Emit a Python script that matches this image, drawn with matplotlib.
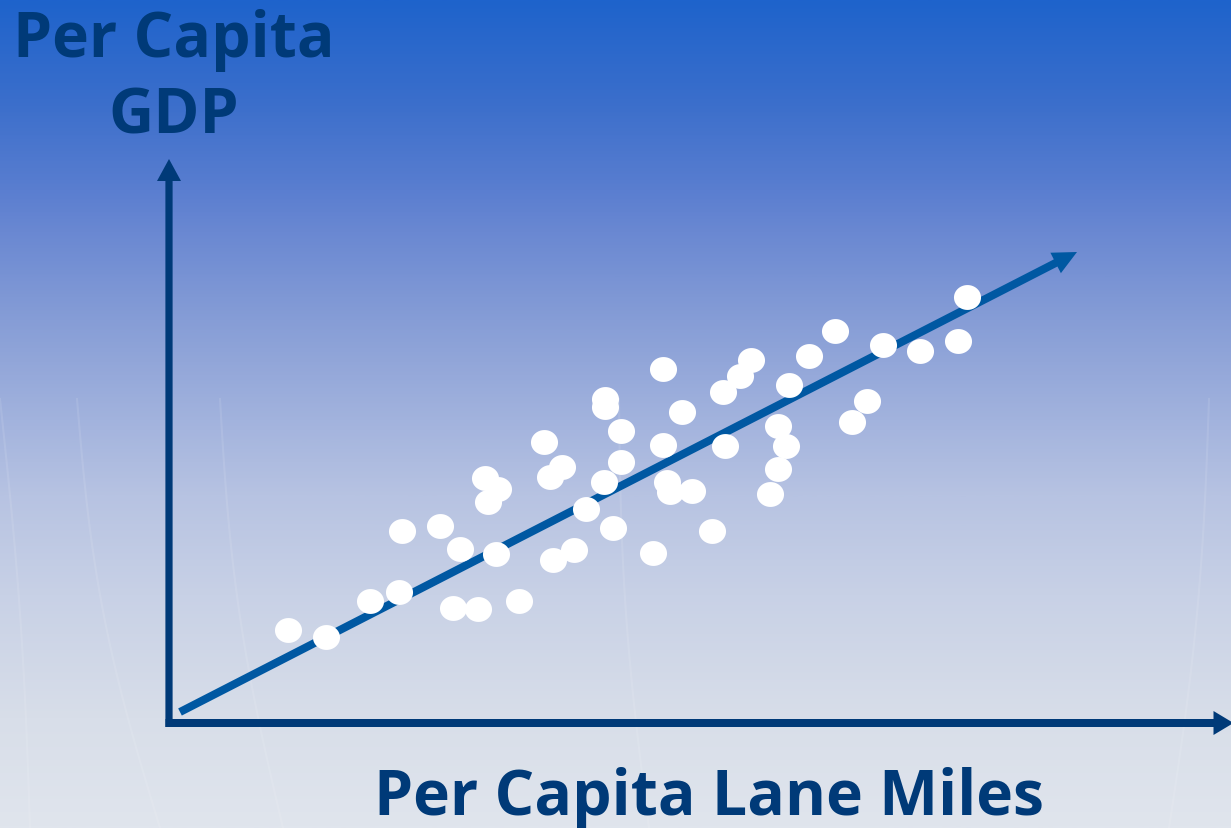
import numpy as np
import matplotlib
matplotlib.use("Agg")
import matplotlib.pyplot as plt
from matplotlib.colors import LinearSegmentedColormap
from matplotlib.patches import FancyArrow

# Per capita lane miles (x) vs per capita GDP (y), arbitrary units
lane_miles = [11.9, 15.7, 20.1, 23.0, 23.3, 27.1, 29.1, 28.4, 30.9, 32.7,
              31.6, 32.9, 31.9, 35.0, 37.5, 38.1, 39.3, 38.4, 40.5, 41.7,
              43.6, 43.6, 45.2, 45.2, 43.5, 44.4, 49.4, 51.3, 49.4, 49.8,
              50.1, 52.3, 48.4, 54.3, 55.4, 57.1, 58.2, 55.6, 62.0, 64.0,
              66.6, 60.9, 61.7, 60.9, 60.1, 71.4, 75.1, 78.9, 79.8, 69.8,
              68.3]
gdp = [9.3, 8.6, 12.2, 13.1, 19.2, 19.7, 17.4, 11.5, 11.4, 16.9,
       24.5, 23.4, 22.1, 12.2, 28.1, 24.6, 25.6, 16.3, 17.3, 21.4,
       32.4, 31.6, 29.2, 26.1, 24.1, 19.5, 35.4, 31.1, 27.8, 24.1,
       23.1, 23.2, 17.0, 19.2, 33.1, 34.7, 36.3, 27.7, 33.8, 36.7,
       39.2, 29.7, 27.7, 25.4, 22.9, 37.8, 37.2, 38.2, 42.6, 32.2,
       30.1]

# trend line start and end
trend_x = [1.1, 90.8]
trend_y = [1.1, 47.1]

x_label = "Per Capita Lane Miles"
y_label = ["Per Capita", "GDP"]

NAVY = "#003a78"
TREND = "#0058a2"

fig = plt.figure(figsize=(12.31, 8.29), dpi=100)
ax = fig.add_axes([0, 0, 1, 1])
ax.set_xlim(-16.9, 106.2)
ax.set_ylim(-10.5, 72.4)
ax.axis("off")

# vertical background gradient
stops = [(0.0, "#1e63cc"), (0.12, "#3a6ecb"), (0.23, "#5a7ed0"),
         (0.28, "#6a88d2"), (0.36, "#7f98d5"), (0.42, "#8ea3d8"),
         (0.52, "#a5b5de"), (0.60, "#b7c3e2"), (0.72, "#c8d1e6"),
         (0.87, "#d8dee9"), (1.0, "#e0e5ed")]
cmap = LinearSegmentedColormap.from_list("bg", stops)
grad = np.linspace(0, 1, 512).reshape(-1, 1)
ax.imshow(grad, cmap=cmap, aspect="auto", extent=(-16.9, 106.2, -10.5, 72.4),
          origin="upper", zorder=0)

# faint decorative arcs
t = np.linspace(0, 1, 100)
for x0, x1, bend in [(-9.2, -0.9, -1.5), (5.1, 11.4, -1.2), (-16.9, -13.9, 0.5),
                     (45.0, 48.0, -0.8), (104.0, 100.0, 0.8)]:
    xs = x0 + (x1 - x0) * t + bend * np.sin(np.pi * t)
    ys = 32.4 - 42.9 * t
    ax.plot(xs, ys, color="white", lw=1.5, alpha=0.1, zorder=1)

# axes arrows
ax.add_patch(FancyArrow(0, -0.4, 0, 56.8, width=0.72, head_width=2.4,
                        head_length=2.2, length_includes_head=True,
                        color=NAVY, lw=0, zorder=2))
ax.add_patch(FancyArrow(-0.35, 0, 106.8, 0, width=0.8, head_width=2.4,
                        head_length=2.0, length_includes_head=True,
                        color=NAVY, lw=0, zorder=2))

# trend arrow
ax.add_patch(FancyArrow(trend_x[0], trend_y[0], trend_x[1] - trend_x[0],
                        trend_y[1] - trend_y[0], width=0.8, head_width=2.3,
                        head_length=2.4, length_includes_head=True,
                        color=TREND, lw=0, zorder=3))

# slightly flattened circle marker
ang = np.linspace(0, 2 * np.pi, 60)
ellipse = np.column_stack([np.cos(ang), 0.92 * np.sin(ang)])
ax.scatter(lane_miles, gdp, s=380, marker=ellipse, color="white",
           linewidths=0, zorder=4)

font = dict(family=["Open Sans", "DejaVu Sans"], weight="bold", color=NAVY,
            fontsize=45)
ax.text(53.95, -9.1, x_label, ha="center", va="baseline", **font)
ax.text(0.5, 66.7, y_label[0], ha="center", va="baseline", **font)
ax.text(0.5, 59.1, y_label[1], ha="center", va="baseline", **font)

fig.savefig("out.png", dpi=100)
